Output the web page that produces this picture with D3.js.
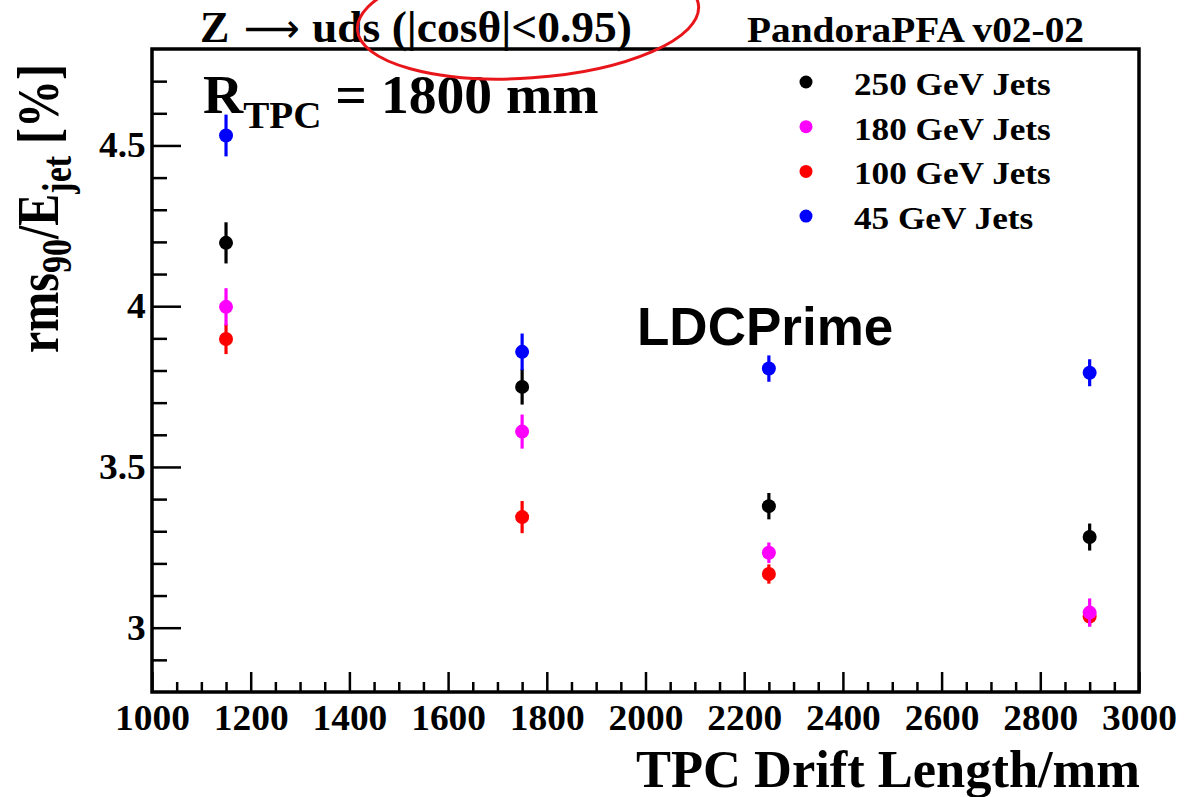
<!DOCTYPE html>
<html>
<head>
<meta charset="utf-8">
<script src="https://cdn.jsdelivr.net/npm/d3@7.9.0/dist/d3.min.js"></script>
<style>
  html, body { margin: 0; padding: 0; background: #fff; }
  svg { display: block; }
  .serif { font-family: "Liberation Serif", "Times New Roman", serif; font-weight: bold; }
</style>
</head>
<body>
<svg id="chart" width="1188" height="797"></svg>
<script>
// ---- data ----
const driftLength = [1150, 1750, 2250, 2900];

const seriesNames = ['250 GeV Jets', '180 GeV Jets', '100 GeV Jets', '45 GeV Jets'];
const seriesColors = ['#000000', '#ff00ff', '#ff0000', '#0000ff'];

const rms250 = [4.197, 3.749, 3.378, 3.282];
const err250 = [0.064, 0.055, 0.041, 0.042];
const rms180 = [3.998, 3.610, 3.233, 3.047];
const err180 = [0.058, 0.053, 0.032, 0.044];
const rms100 = [3.898, 3.344, 3.167, 3.035];
const err100 = [0.047, 0.050, 0.030, 0.030];
const rms45  = [4.531, 3.858, 3.806, 3.793];
const err45  = [0.065, 0.057, 0.041, 0.042];

const xMajorTicks = [1000, 1200, 1400, 1600, 1800, 2000, 2200, 2400, 2600, 2800, 3000];
const yMajorTicks = [3, 3.5, 4, 4.5];

// ---- layout ----
const svg = d3.select('#chart');
const frame = { left: 152, right: 1139, top: 49, bottom: 692 };
const SX = 1.1; // the reference text is a little wider than plain Times

const x = d3.scaleLinear().domain([1000, 3000]).range([frame.left, frame.right]);
const y = d3.scaleLinear().domain([2.8, 4.8]).range([frame.bottom, frame.top]);

const xMinor = d3.range(1050, 3000, 50).filter(v => v % 200 !== 0);
const yMinor = d3.range(29, 48).map(v => v / 10).filter(v => !yMajorTicks.includes(v));

svg.append('rect').attr('width', 1188).attr('height', 797).attr('fill', '#fff');

// ---- axes: ticks point into the frame ----
const gx = svg.append('g').attr('transform', `translate(0,${frame.bottom})`);
gx.call(d3.axisBottom(x).tickValues(xMajorTicks).tickSizeInner(-20).tickSizeOuter(0)
  .tickPadding(12).tickFormat(d3.format('d')));
gx.append('g').call(d3.axisBottom(x).tickValues(xMinor).tickSizeInner(-10).tickSizeOuter(0).tickFormat(''));

const gy = svg.append('g').attr('transform', `translate(${frame.left},0)`);
gy.call(d3.axisLeft(y).tickValues(yMajorTicks).tickSizeInner(-29).tickSizeOuter(0)
  .tickPadding(6).tickFormat(d => d3.format('~g')(d)));
gy.append('g').call(d3.axisLeft(y).tickValues(yMinor).tickSizeInner(-15).tickSizeOuter(0).tickFormat(''));

svg.selectAll('.domain').remove();
svg.selectAll('.tick line').attr('stroke', '#000').attr('stroke-width', 2.5);
svg.selectAll('.tick text')
  .attr('class', 'serif')
  .attr('font-size', 36)
  .attr('fill', '#000');
gx.selectAll('.tick text').attr('transform', 'scale(1.04,1)');
gy.selectAll('.tick text').attr('transform', 'scale(1.04,1)');

// frame
svg.append('rect')
  .attr('x', frame.left).attr('y', frame.top)
  .attr('width', frame.right - frame.left).attr('height', frame.bottom - frame.top)
  .attr('fill', 'none').attr('stroke', '#000').attr('stroke-width', 3.5);

// ---- data points with error bars ----
const allSeries = [
  { name: seriesNames[0], color: seriesColors[0], vals: rms250, errs: err250 },
  { name: seriesNames[2], color: seriesColors[2], vals: rms100, errs: err100 },
  { name: seriesNames[1], color: seriesColors[1], vals: rms180, errs: err180 },
  { name: seriesNames[3], color: seriesColors[3], vals: rms45,  errs: err45 },
];

allSeries.forEach(s => {
  const pts = driftLength.map((d, i) => ({ x: d, v: s.vals[i], e: s.errs[i] }));
  const g = svg.append('g');
  g.selectAll('line').data(pts).join('line')
    .attr('x1', d => x(d.x)).attr('x2', d => x(d.x))
    .attr('y1', d => y(d.v - d.e)).attr('y2', d => y(d.v + d.e))
    .attr('stroke', s.color).attr('stroke-width', 3.2);
  g.selectAll('circle').data(pts).join('circle')
    .attr('cx', d => x(d.x)).attr('cy', d => y(d.v))
    .attr('r', 7).attr('fill', s.color);
});

// ---- legend ----
const legend = svg.append('g');
seriesNames.forEach((name, i) => {
  const cy = 82 + i * 44.7;
  legend.append('circle').attr('cx', 806).attr('cy', cy).attr('r', 6.5).attr('fill', seriesColors[i]);
  legend.append('g').attr('transform', `translate(854,${cy + 13}) scale(${SX},1)`)
    .append('text').attr('class', 'serif').attr('font-size', 32).text(name);
});

// ---- texts ----
// title in three pieces: Z, long arrow, rest
svg.append('text').attr('class', 'serif')
  .attr('x', 200).attr('y', 42).attr('font-size', 44)
  .text('Z');
svg.append('text')
  .attr('x', 244).attr('y', 42)
  .attr('font-family', '"DejaVu Sans", sans-serif').attr('font-size', 40)
  .attr('textLength', 56).attr('lengthAdjust', 'spacingAndGlyphs')
  .text('\u27f6');
svg.append('text').attr('class', 'serif')
  .attr('x', 312).attr('y', 42).attr('font-size', 44)
  .attr('textLength', 320).attr('lengthAdjust', 'spacingAndGlyphs')
  .text('uds (|cos\u03b8|<0.95)');

svg.append('text').attr('class', 'serif')
  .attr('x', 747).attr('y', 42).attr('font-size', 36)
  .attr('textLength', 337).attr('lengthAdjust', 'spacingAndGlyphs')
  .text('PandoraPFA v02-02');

const rt = svg.append('g').attr('transform', 'translate(203,113) scale(1.03,1)')
  .append('text').attr('class', 'serif').attr('font-size', 54);
rt.append('tspan').text('R');
rt.append('tspan').attr('font-size', 38).attr('dy', 15).text('TPC');
rt.append('tspan').attr('dy', -15).text(' = 1800 mm');

svg.append('text')
  .attr('x', 637).attr('y', 345)
  .attr('font-family', '"Liberation Sans", Arial, sans-serif')
  .attr('font-weight', 'bold').attr('font-size', 53)
  .text('LDCPrime');

svg.append('text').attr('class', 'serif')
  .attr('x', 1140).attr('y', 787).attr('text-anchor', 'end').attr('font-size', 52)
  .attr('textLength', 504).attr('lengthAdjust', 'spacingAndGlyphs')
  .text('TPC Drift Length/mm');

// y title, rotated
const yt = svg.append('g').attr('transform', 'translate(58,353) scale(1.25,1) rotate(-90)')
  .append('text').attr('class', 'serif').attr('font-size', 48);
yt.append('tspan').text('rms');
yt.append('tspan').attr('font-size', 34).attr('dy', 10).text('90');
yt.append('tspan').attr('dy', -10).text('/E');
yt.append('tspan').attr('font-size', 34).attr('dy', 10).text('jet');
yt.append('tspan').attr('dy', -10).text(' [%]');

// red hand-drawn ellipse annotation
svg.append('ellipse')
  .attr('cx', 528).attr('cy', 18).attr('rx', 171).attr('ry', 60)
  .attr('transform', 'rotate(-4,528,18)')
  .attr('fill', 'none').attr('stroke', '#e8161b').attr('stroke-width', 3);
</script>
</body>
</html>
